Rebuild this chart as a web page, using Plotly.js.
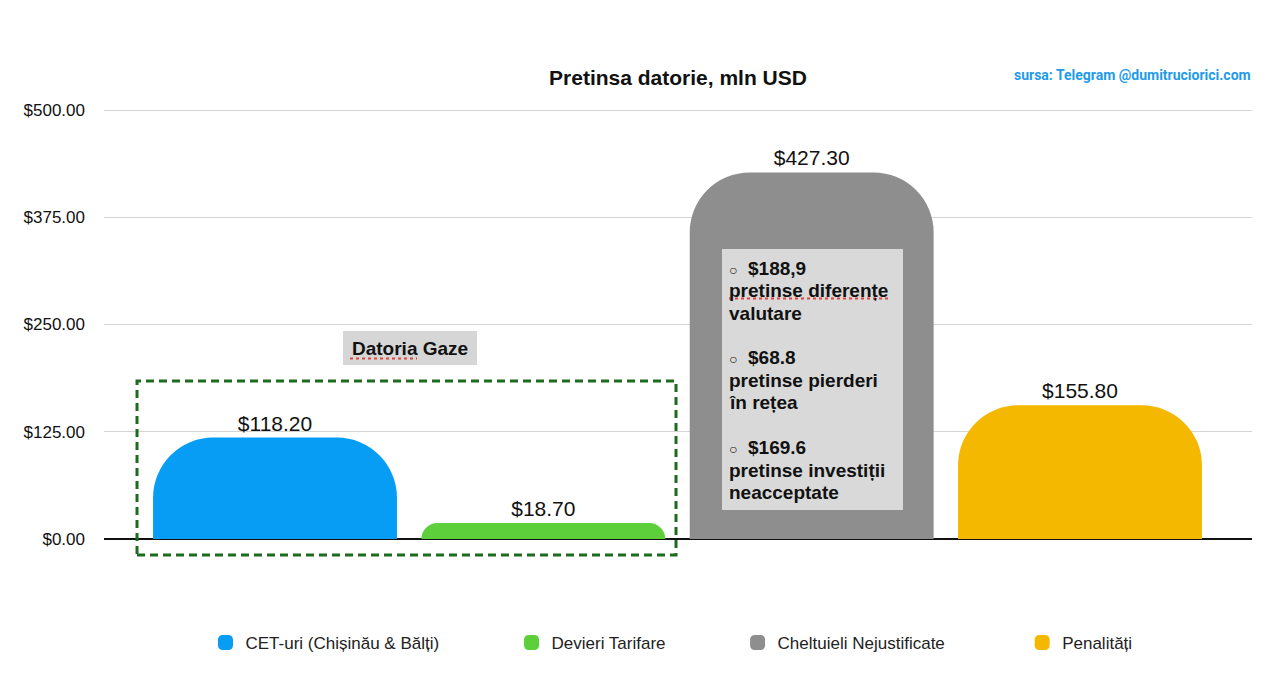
<!DOCTYPE html>
<html>
<head>
<meta charset="utf-8">
<script src="https://cdn.plot.ly/plotly-3.0.1.min.js"></script>
<style>
  html, body { margin: 0; padding: 0; background: #fff; }
  #chart { width: 1280px; height: 682px; }
</style>
</head>
<body>
<div id="chart"></div>
<script>
// Debt categories and claimed amounts (mln USD)
const categories = ['CET-uri (Chișinău & Bălți)', 'Devieri Tarifare', 'Cheltuieli Nejustificate', 'Penalități'];
const values = [118.20, 18.70, 427.30, 155.80];
const colors = ['#089df4', '#5ccf3a', '#8e8e8e', '#f5b800'];
const tickValues = [0, 125, 250, 375, 500];
const tickLabels = tickValues.map(v => '$' + v.toFixed(2));

// Breakdown of the "Cheltuieli Nejustificate" amount
const breakdownLines = [
  '○ $188,9', 'pretinse diferențe', 'valutare',
  '○ $68.8', 'pretinse pierderi', 'în rețea',
  '○ $169.6', 'pretinse investiții', 'neacceptate'
];

const FONT = 'Liberation Sans, Arial, Helvetica, sans-serif';
const legendIds = ['legend', 'legend2', 'legend3', 'legend4'];
const legendX = [0.0884, 0.3550, 0.5519, 0.7998];

// pixel -> data helpers for the fixed plot geometry (0 at y=539px, 0.858 px per unit;
// category centres at 275px spaced 268.33px)
const dx = px => (px - 275) / 268.33;
const dy = py => (539 - py) / 0.858;

// Rounded-top bars carrying the values
const barTraces = categories.map((name, i) => ({
  type: 'bar',
  name: name,
  x: [i],
  y: [values[i]],
  width: 0.909,
  marker: { color: colors[i], cornerradius: 60, line: { width: 0 } },
  texttemplate: '$%{y:.2f}',
  textposition: 'outside',
  cliponaxis: false,
  textfont: { family: FONT, size: 21, color: '#111' },
  showlegend: false,
  hoverinfo: 'skip'
}));

// Legend entries with square swatches
const legendTraces = categories.map((name, i) => ({
  type: 'bar',
  name: name,
  x: [i],
  y: [null],
  marker: { color: colors[i], cornerradius: 2, line: { color: colors[i], width: 3 } },
  legend: legendIds[i],
  showlegend: true,
  hoverinfo: 'skip'
}));

const legendCommon = {
  orientation: 'h',
  yanchor: 'middle',
  y: -0.1553,
  xanchor: 'left',
  bgcolor: 'rgba(0,0,0,0)',
  font: { family: FONT, size: 17, color: '#222' }
};

const bullet = s => s.replace('○ ', '<span style="font-size:14px">○</span>  ');

// vertical centres of the breakdown lines inside the note box
const linePx = [268, 290.5, 313, 357, 380, 402.5, 447, 470, 492.5];

const breakdownAnnotations = breakdownLines.map((s, i) => ({
  text: '<b>' + bullet(s) + '</b>',
  xref: 'x', yref: 'y',
  x: dx(727), xanchor: 'left',
  y: dy(linePx[i]), yanchor: 'middle',
  showarrow: false,
  font: { family: FONT, size: 19, color: '#111' }
}));

const layout = {
  width: 1280,
  height: 682,
  margin: { l: 104, r: 28, t: 100, b: 112 },
  paper_bgcolor: '#ffffff',
  plot_bgcolor: '#ffffff',
  showlegend: true,
  barmode: 'overlay',
  title: {
    text: '<b>Pretinsa datorie, mln USD</b>',
    font: { family: FONT, size: 21, color: '#111' },
    x: 0.5, xref: 'paper', xanchor: 'center',
    y: 1 - 78 / 682, yanchor: 'middle'
  },
  xaxis: {
    range: [-0.6373, 3.641],
    showticklabels: false,
    showgrid: false,
    zeroline: false,
    fixedrange: true
  },
  yaxis: {
    range: [-36.13, 511.66],
    tickmode: 'array',
    tickvals: tickValues,
    ticktext: tickLabels,
    ticklabelstandoff: 18,
    tickfont: { family: FONT, size: 17, color: '#111' },
    showgrid: true,
    gridcolor: '#d4d4d4',
    gridwidth: 1,
    zeroline: true,
    zerolinecolor: '#111',
    zerolinewidth: 2,
    fixedrange: true
  },
  shapes: [
    // dashed frame around the gas-debt bars
    {
      type: 'rect', xref: 'x', yref: 'y',
      x0: dx(137), x1: dx(676), y0: dy(555), y1: dy(381),
      line: { color: '#1d6b1d', width: 3, dash: '8px,5px' },
      fillcolor: 'rgba(0,0,0,0)',
      layer: 'above'
    },
    // label background "Datoria Gaze"
    {
      type: 'rect', xref: 'x', yref: 'y',
      x0: dx(343), x1: dx(477), y0: dy(365), y1: dy(331),
      line: { width: 0 },
      fillcolor: '#d6d6d6',
      layer: 'above'
    },
    // note box inside the grey bar
    {
      type: 'rect', xref: 'x', yref: 'y',
      x0: dx(722), x1: dx(903), y0: dy(510), y1: dy(249),
      line: { width: 0 },
      fillcolor: '#d9d9d9',
      layer: 'above'
    },
    // spell-check style dotted underlines
    {
      type: 'line', xref: 'x', yref: 'y',
      x0: dx(350), x1: dx(417), y0: dy(358.5), y1: dy(358.5),
      line: { color: '#e0453a', width: 2, dash: 'dot' },
      layer: 'above'
    },
    {
      type: 'line', xref: 'x', yref: 'y',
      x0: dx(729), x1: dx(889), y0: dy(298.5), y1: dy(298.5),
      line: { color: '#e0453a', width: 2, dash: 'dot' },
      layer: 'above'
    }
  ],
  annotations: [
    {
      text: 'sursa: Telegram @dumitruciorici.com',
      xref: 'paper', yref: 'paper',
      x: (1253 - 104) / 1148, xanchor: 'right',
      y: (570 - 75) / 470, yanchor: 'middle',
      showarrow: false,
      font: { family: 'Roboto, sans-serif', size: 14, color: '#1e9be8', weight: 700 }
    },
    {
      text: '<b>Datoria Gaze</b>',
      xref: 'x', yref: 'y',
      x: dx(410), y: dy(348),
      showarrow: false,
      font: { family: FONT, size: 19, color: '#111' }
    }
  ].concat(breakdownAnnotations)
};

legendIds.forEach((id, i) => {
  layout[id] = Object.assign({}, legendCommon, { x: legendX[i] });
});

Plotly.newPlot('chart', barTraces.concat(legendTraces), layout, { displayModeBar: false, staticPlot: true });
</script>
</body>
</html>
